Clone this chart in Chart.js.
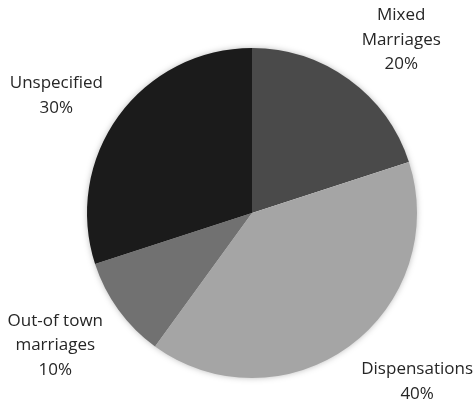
<!DOCTYPE html>
<html>
<head>
<meta charset="utf-8">
<script src="https://cdn.jsdelivr.net/npm/chart.js@4.4.0/dist/chart.umd.min.js"></script>
<style>
    html, body { margin: 0; padding: 0; background: #fff; }
    #wrap { width: 474px; height: 402px; }
</style>
</head>
<body>
<div id="wrap"><canvas id="pie"></canvas></div>
<script>
const categories = [["Mixed", "Marriages"], ["Dispensations"], ["Out-of town", "marriages"], ["Unspecified"]]
const shares = [20, 40, 10, 30]
const percentLabels = ["20%", "40%", "10%", "30%"]

const sliceColors = ["#4a4a4a", "#a5a5a5", "#717171", "#1b1b1b"]
const lineH = 24.5

// soft shadow under the whole pie
const pieShadow = {
    id: 'pieShadow',
    beforeDatasetsDraw(chart) {
        const arc = chart.getDatasetMeta(0).data[0]
        if (!arc) return
        const ctx = chart.ctx
        ctx.save()
        ctx.shadowColor = 'rgba(0,0,0,0.35)'
        ctx.shadowBlur = 7
        ctx.fillStyle = '#fff'
        ctx.beginPath()
        ctx.arc(arc.x, arc.y, arc.outerRadius - 1, 0, Math.PI * 2)
        ctx.fill()
        ctx.restore()
    }
}

// category + percent labels outside the slices
const outsideLabels = {
    id: 'outsideLabels',
    afterDatasetsDraw(chart) {
        const ctx = chart.ctx
        const meta = chart.getDatasetMeta(0)
        ctx.save()
        ctx.font = '17px "Open Sans"'
        ctx.fillStyle = '#262626'
        ctx.textAlign = 'center'
        ctx.textBaseline = 'middle'
        meta.data.forEach((arc, i) => {
            const lines = categories[i].concat(percentLabels[i])
            const mid = (arc.startAngle + arc.endAngle) / 2
            const ux = Math.cos(mid), uy = Math.sin(mid)
            const d = arc.outerRadius + 13
            const w = Math.max(...lines.map(l => ctx.measureText(l).width))
            const h = lines.length * lineH
            let cx = arc.x + ux * d + Math.sign(ux) * (w / 2 + 5)
            let cy = arc.y + uy * d + uy * (h / 2 + 4) + 4
            // keep the box on the canvas (glyphs sit a bit inside the line box)
            cx = Math.min(Math.max(cx, w / 2 + 1), chart.width - w / 2 - 1)
            cy = Math.min(Math.max(cy, h / 2), chart.height - h / 2 + 4)
            lines.forEach((l, k) => ctx.fillText(l, cx, cy - h / 2 + lineH * (k + 0.5)))
        })
        ctx.restore()
    }
}

new Chart(document.getElementById('pie'), {
    type: 'pie',
    data: {
        labels: categories.map(c => c.join(' ')),
        datasets: [{
            data: shares,
            backgroundColor: sliceColors,
            borderWidth: 0
        }]
    },
    options: {
        responsive: true,
        maintainAspectRatio: false,
        animation: false,
        layout: {
            padding: { left: 87, right: 57, top: 48, bottom: 24 }
        },
        plugins: {
            legend: { display: false },
            tooltip: { enabled: false }
        }
    },
    plugins: [pieShadow, outsideLabels]
})
</script>
</body>
</html>
